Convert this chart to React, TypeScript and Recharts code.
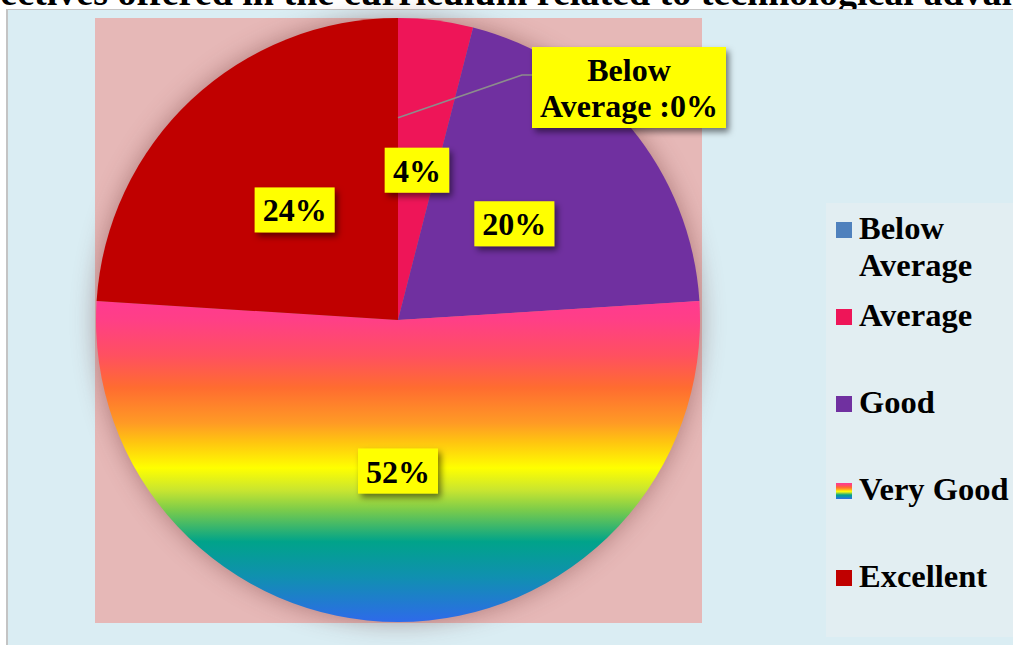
import { Cell, Legend, Pie, PieChart } from "recharts";

const TITLE = "Objectives offered in the curriculum related to technological advancements";
const CATEGORIES = ["Below Average", "Average", "Good", "Very Good", "Excellent"];
const PERCENTS = [0, 4, 20, 52, 24];
const COLORS = ["#4f81bd", "#ee1558", "#7030a0", "url(#veryGoodRainbow)", "#c00000"];
const RAINBOW_STOPS: [number, string][] = [
  [0, "#ff3a90"],
  [0.06, "#ff3f86"],
  [0.17, "#ff5060"],
  [0.27, "#ff6c30"],
  [0.38, "#ff9a25"],
  [0.44, "#ffc510"],
  [0.52, "#ffff00"],
  [0.59, "#c8e530"],
  [0.65, "#7ccc4a"],
  [0.75, "#00a38a"],
  [0.86, "#1090b0"],
  [1, "#2e6aea"],
];

const data = CATEGORIES.map((name, i) => ({ name, value: PERCENTS[i] }));

const serif = '"Liberation Serif", "Times New Roman", serif';
const RADIAN = Math.PI / 180;
const FONT = 32;

function textWidth(s: string) {
  let w = 0;
  for (const ch of s) w += ch === "%" ? 1 : ch === " " ? 0.25 : ch === ":" ? 0.333 : 0.5;
  return w * 31;
}

function renderLabel(props: any) {
  const { cx, cy, midAngle, outerRadius, value, name } = props;
  if (value === 0) {
    const words = String(name).split(" ");
    const lx = cx;
    const ly = cy - outerRadius * 0.67;
    const ex = cx + 124;
    const ey = cy - 245;
    const bx = cx + 134;
    return (
      <g>
        <polyline points={`${lx},${ly} ${ex},${ey} ${bx},${ey}`} fill="none" stroke="#8c8c8c" strokeWidth={1.6} />
        <rect x={bx} y={cy - 273} width={194} height={81} fill="#ffff00" filter="url(#labelShadow)" />
        <text x={bx + 97} y={cy - 239} textAnchor="middle" fontFamily={serif} fontWeight={700} fontSize={FONT} fill="#000">
          {words[0]}
        </text>
        <text x={bx + 97} y={cy - 203} textAnchor="middle" fontFamily={serif} fontWeight={700} fontSize={FONT} fill="#000">
          {`${words.slice(1).join(" ")} :${value}%`}
        </text>
      </g>
    );
  }
  const r = outerRadius * 0.5;
  const x = cx + r * Math.cos(-midAngle * RADIAN);
  const y = cy + r * Math.sin(-midAngle * RADIAN);
  const label = `${value}%`;
  const w = textWidth(label) + 18;
  return (
    <g>
      <rect x={x - w / 2} y={y - 22.5} width={w} height={45} fill="#ffff00" filter="url(#labelShadow)" />
      <text x={x} y={y + 11.5} textAnchor="middle" fontFamily={serif} fontWeight={700} fontSize={FONT} fill="#000">
        {label}
      </text>
    </g>
  );
}

const rainbowCss = `linear-gradient(to bottom, ${RAINBOW_STOPS.map(([o, c]) => `${c} ${o * 100}%`).join(", ")})`;

function LegendContent({ payload }: any) {
  const items = [...(payload || [])].sort(
    (a: any, b: any) => CATEGORIES.indexOf(a.value) - CATEGORIES.indexOf(b.value)
  );
  return (
    <div style={{ width: 187, height: 434, background: "#e2eef2", position: "relative", fontFamily: serif, fontWeight: 700, fontSize: 32.5 }}>
      {items.map((p: any, i: number) => (
        <div key={p.value} style={{ position: "absolute", left: 10, top: 7 + 87 * i, display: "flex", alignItems: "flex-start" }}>
          <span
            style={{
              width: 16,
              height: 16,
              marginTop: 12,
              flex: "none",
              background: String(p.color).startsWith("url") ? rainbowCss : p.color,
            }}
          />
          <span style={{ marginLeft: 7, width: 154, lineHeight: "37px", color: "#000" }}>{p.value}</span>
        </div>
      ))}
    </div>
  );
}

export default function App() {
  return (
    <div style={{ position: "relative", width: 1013, height: 645, overflow: "hidden", background: "#fff" }}>
      <style>{`body{margin:0} .recharts-pie{filter:drop-shadow(0 0 12px rgba(90,30,30,0.4))}`}</style>
      <div
        style={{
          position: "absolute",
          left: -63,
          top: -27,
          fontFamily: serif,
          fontWeight: 700,
          fontSize: 38,
          lineHeight: "38px",
          whiteSpace: "nowrap",
          color: "#000",
        }}
      >
        {TITLE}
      </div>
      <div
        style={{
          position: "absolute",
          left: 6,
          top: 9,
          width: 1100,
          height: 700,
          background: "#daedf3",
          borderLeft: "2px solid #c4c4c4",
          borderTop: "1px solid #c4c4c4",
        }}
      />
      <div style={{ position: "absolute", left: 95, top: 18, width: 607, height: 605, background: "#e6b8b7" }} />
      <div style={{ position: "absolute", left: 0, top: 0 }}>
        <PieChart width={1013} height={645} margin={{ top: 0, right: 0, bottom: 0, left: 0 }}>
          <defs>
            <linearGradient id="veryGoodRainbow" x1="0" y1="0" x2="0" y2="1">
              {RAINBOW_STOPS.map(([o, c]) => (
                <stop key={o} offset={o} stopColor={c} />
              ))}
            </linearGradient>
            <filter id="labelShadow" x="-30%" y="-30%" width="160%" height="170%">
              <feDropShadow dx={3} dy={4} stdDeviation={3} floodColor="#000" floodOpacity={0.5} />
            </filter>
          </defs>
          <Pie
            data={data}
            dataKey="value"
            nameKey="name"
            cx={398}
            cy={320}
            outerRadius={302}
            startAngle={90}
            endAngle={-270}
            stroke="none"
            label={renderLabel}
            labelLine={false}
            isAnimationActive={false}
          >
            {data.map((d, i) => (
              <Cell key={d.name} fill={COLORS[i]} />
            ))}
          </Pie>
          <Legend
            layout="vertical"
            align="right"
            verticalAlign="top"
            content={<LegendContent />}
            wrapperStyle={{ left: 826, top: 203, width: 187, height: 434 }}
          />
        </PieChart>
      </div>
    </div>
  );
}
